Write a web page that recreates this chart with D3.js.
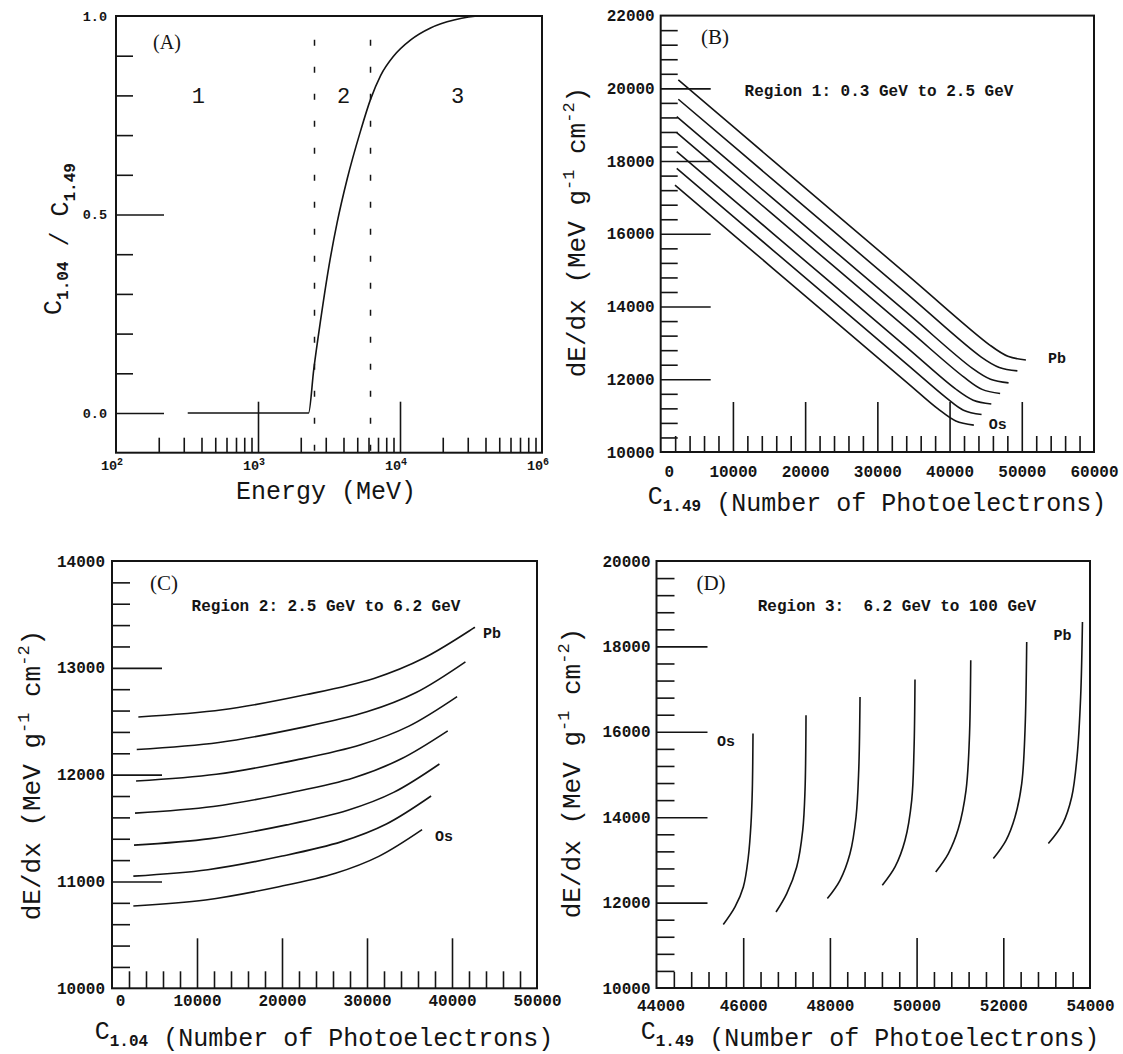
<!DOCTYPE html>
<html>
<head>
<meta charset="utf-8">
<script src="https://cdn.jsdelivr.net/npm/d3@7"></script>
<style>
  body { margin: 0; background: #fff; }
  text { fill: #141414; white-space: pre; }
</style>
</head>
<body>
<svg id="chart" width="1123" height="1054"></svg>
<script>
// ---------- data ----------

// (A) C1.04 / C1.49 versus energy (MeV)
const energyA = [320, 2270, 2470, 2750, 3160, 3610, 4250, 5270, 6200, 7300, 9060, 11900, 16400, 24000, 37000, 100000];
const ratioA  = [0, 0, 0.11, 0.23, 0.37, 0.48, 0.59, 0.71, 0.79, 0.85, 0.90, 0.94, 0.97, 0.99, 1.0, 1.0];
const regionCutsA = [2500, 6200];
const regionNamesA = ["1", "2", "3"];
const regionPosA = [380, 4000, 25400];
const xTicksA = [100, 1000, 10000, 100000];
const xTickExpA = ["2", "3", "4", "6"];
const yTicksA = [0, 0.5, 1.0];
const yTickLabelsA = ["0.0", "0.5", "1.0"];

// (B) region 1: dE/dx versus C1.49, Pb (top) ... Os (bottom)
const bX = [
  [2440, 15600, 34070, 45570, 48070, 50570],
  [2440, 15600, 34070, 44390, 46890, 49390],
  [2220, 15600, 34070, 43170, 45670, 48170],
  [2220, 15600, 34070, 42000, 44500, 47000],
  [2220, 15600, 34070, 40780, 43280, 45780],
  [2220, 15600, 34070, 39430, 41930, 44430],
  [1980, 15600, 34070, 38360, 40860, 43360]
];
const bY = [
  [20230, 18006, 14885, 12941, 12633, 12530],
  [19700, 17476, 14355, 12610, 12325, 12230],
  [19220, 16959, 13838, 12299, 12000, 11900],
  [18780, 16519, 13398, 12057, 11722, 11610],
  [18260, 15999, 12878, 11743, 11426, 11320],
  [17800, 15539, 12418, 11511, 11150, 11030],
  [17340, 15038, 11917, 11192, 10853, 10740]
];
const bTicks = [10000, 12000, 14000, 16000, 18000, 20000, 22000];
const bXTicks = [0, 10000, 20000, 30000, 40000, 50000, 60000];

// (C) region 2: dE/dx versus C1.04
const cX = [
  [3100, 13000, 22900, 30820, 36760, 42700],
  [2910, 12580, 22245, 29980, 35780, 41580],
  [2830, 12270, 21715, 29270, 34935, 40600],
  [2710, 11910, 21105, 28460, 33980, 39500],
  [2590, 11570, 20555, 27740, 33130, 38520],
  [2510, 11270, 20025, 27030, 32285, 37540],
  [2510, 11000, 19495, 26290, 31385, 36480]
];
const cY = [
  [12540, 12607, 12750, 12901, 13094, 13380],
  [12235, 12301, 12440, 12588, 12769, 13056],
  [11940, 12003, 12138, 12280, 12454, 12730],
  [11640, 11702, 11833, 11971, 12146, 12410],
  [11340, 11401, 11530, 11667, 11834, 12100],
  [11050, 11110, 11238, 11373, 11538, 11800],
  [10770, 10827, 10949, 11077, 11235, 11485]
];
const cTicks = [10000, 11000, 12000, 13000, 14000];
const cXTicks = [0, 10000, 20000, 30000, 40000, 50000];

// (D) region 3: dE/dx versus C1.49, Os (left) ... Pb (right)
const dX = [
  [45541, 45811, 46003, 46118, 46180, 46210, 46226],
  [46757, 47004, 47234, 47373, 47426, 47449],
  [47941, 48233, 48464, 48603, 48665, 48695],
  [49209, 49502, 49733, 49887, 49940, 49963],
  [50441, 50732, 50963, 51140, 51216, 51249],
  [51770, 52063, 52270, 52425, 52501, 52540],
  [53039, 53371, 53578, 53701, 53784, 53826]
];
const dY = [
  [11485, 11897, 12366, 13068, 13850, 14630, 15958],
  [11780, 12211, 12834, 13693, 14630, 16387],
  [12094, 12522, 13148, 14005, 15099, 16815],
  [12405, 12834, 13459, 14396, 15567, 17223],
  [12717, 13148, 13733, 14630, 15801, 17675],
  [13031, 13459, 14005, 14787, 16035, 18103],
  [13382, 13850, 14473, 15410, 16815, 18572]
];
const dTicks = [10000, 12000, 14000, 16000, 18000, 20000];
const dXTicks = [44000, 46000, 48000, 50000, 52000, 54000];

// ---------- drawing ----------
const svg = d3.select("#chart");
const ink = "#141414";
const mono = "'Liberation Mono', 'Courier New', monospace";
const serif = "'Liberation Serif', 'Times New Roman', serif";

function frame(g, x, y) {
  const [x0, x1] = x.range(), [y0, y1] = y.range();
  g.append("rect")
    .attr("x", x0).attr("y", y1)
    .attr("width", x1 - x0).attr("height", y0 - y1)
    .attr("fill", "none").attr("stroke", ink).attr("stroke-width", 2);
}

// inward tick marks on the left or bottom edge
function ticks(g, axis, values, len, tr) {
  g.append("g").attr("transform", tr)
    .call(axis.tickValues(values).tickSize(-len).tickFormat(""))
    .call(s => s.select(".domain").remove())
    .selectAll("line").attr("stroke", ink).attr("stroke-width", 1.6);
}

function labels(g, axis, values, texts, pad, tr, size) {
  const a = g.append("g").attr("transform", tr)
    .call(axis.tickValues(values).tickSize(0).tickPadding(pad).tickFormat((d, i) => texts[i]));
  a.select(".domain").remove();
  a.attr("font-family", mono).attr("font-weight", "bold").attr("font-size", size);
  a.selectAll("text").attr("fill", ink);
  return a;
}

function curves(g, x, y, xs, ys) {
  const line = d3.line().curve(d3.curveCatmullRom.alpha(0.5));
  xs.forEach((row, i) => {
    g.append("path")
      .attr("d", line(row.map((v, j) => [x(v), y(ys[i][j])])))
      .attr("fill", "none").attr("stroke", ink).attr("stroke-width", 1.6);
  });
}

function note(g, px, py, txt, size, family, weight, anchor) {
  g.append("text").attr("x", px).attr("y", py).attr("dy", "0.35em")
    .attr("text-anchor", anchor || "middle")
    .attr("font-family", family).attr("font-size", size)
    .attr("font-weight", weight || "normal").text(txt);
}

// "C" with a subscript, e.g. C1.49
function cSub(t, sub) {
  t.append("tspan").text("C");
  t.append("tspan").attr("dy", 7).attr("font-size", 16).attr("font-weight", "bold").text(sub);
  t.append("tspan").attr("dy", -7).text("");
}

function xTitle(g, px, py, sub) {
  const t = g.append("text").attr("x", px).attr("y", py).attr("dy", "0.35em")
    .attr("text-anchor", "middle").attr("font-family", mono).attr("font-size", 25);
  cSub(t, sub);
  t.append("tspan").text(" (Number of Photoelectrons)");
}

function yTitle(g, px, py) {
  const t = g.append("text").attr("transform", `translate(${px},${py}) rotate(-90)`)
    .attr("dy", "0.35em").attr("text-anchor", "middle")
    .attr("font-family", mono).attr("font-size", 26);
  t.append("tspan").text("dE/dx (MeV g");
  t.append("tspan").attr("dy", -11).attr("font-size", 17).text("-1");
  t.append("tspan").attr("dy", 11).text(" cm");
  t.append("tspan").attr("dy", -11).attr("font-size", 17).text("-2");
  t.append("tspan").attr("dy", 11).text(")");
}

// ----- panel A -----
{
  const g = svg.append("g");
  const x = d3.scaleLog().domain([100, 100000]).range([116, 542]);
  const y = d3.scaleLinear().domain([-0.1, 1.0]).range([452.7, 16]);
  frame(g, x, y);
  const xMinor = [];
  [100, 1000, 10000].forEach(b => d3.range(2, 10).forEach(k => xMinor.push(b * k)));
  ticks(g, d3.axisBottom(x), xMinor, 15, `translate(0,${y(-0.1)})`);
  ticks(g, d3.axisBottom(x), [1000, 10000], 51, `translate(0,${y(-0.1)})`);
  ticks(g, d3.axisLeft(y), [0.1, 0.2, 0.3, 0.4, 0.6, 0.7, 0.8, 0.9], 17, `translate(${x(100)},0)`);
  ticks(g, d3.axisLeft(y), [0, 0.5], 48, `translate(${x(100)},0)`);
  labels(g, d3.axisLeft(y), yTicksA, yTickLabelsA, 9, `translate(${x(100)},0)`, 13.5);

  xTicksA.forEach((v, i) => {
    const t = g.append("text").attr("x", x(v) - 4).attr("y", 470)
      .attr("text-anchor", "middle").attr("font-family", mono)
      .attr("font-weight", "bold").attr("font-size", 13.5);
    t.append("tspan").text("10");
    t.append("tspan").attr("dy", -5).attr("font-size", 10).text(xTickExpA[i]);
  });

  regionCutsA.forEach(v => {
    g.append("line").attr("x1", x(v)).attr("x2", x(v))
      .attr("y1", y(0.94)).attr("y2", y(-0.1))
      .attr("stroke", ink).attr("stroke-width", 1.5).attr("stroke-dasharray", "6,21");
  });

  g.append("path")
    .attr("d", d3.line().curve(d3.curveMonotoneX)(energyA.map((v, i) => [x(v), y(ratioA[i])])))
    .attr("fill", "none").attr("stroke", ink).attr("stroke-width", 1.6);

  regionNamesA.forEach((n, i) => note(g, x(regionPosA[i]), y(0.8), n, 22, mono));
  note(g, 167, 42, "(A)", 20, serif);

  note(g, 326, 490, "Energy (MeV)", 25, mono);
  const t = g.append("text").attr("transform", "translate(52,239) rotate(-90)")
    .attr("dy", "0.35em").attr("text-anchor", "middle")
    .attr("font-family", mono).attr("font-size", 25);
  cSub(t, "1.04");
  t.append("tspan").text(" / ");
  cSub(t, "1.49");
}

// ----- panel B -----
{
  const g = svg.append("g");
  const x = d3.scaleLinear().domain([0, 60000]).range([660.7, 1094]);
  const y = d3.scaleLinear().domain([10000, 22000]).range([452, 15.6]);
  frame(g, x, y);
  ticks(g, d3.axisBottom(x), d3.range(2000, 60000, 2000).filter(v => v % 10000), 16, `translate(0,${y(10000)})`);
  ticks(g, d3.axisBottom(x), [10000, 20000, 30000, 40000, 50000], 50, `translate(0,${y(10000)})`);
  ticks(g, d3.axisLeft(y), d3.range(10400, 22000, 400).filter(v => v % 2000), 17, `translate(${x(0)},0)`);
  ticks(g, d3.axisLeft(y), [12000, 14000, 16000, 18000, 20000], 50, `translate(${x(0)},0)`);
  labels(g, d3.axisLeft(y), bTicks, bTicks.map(String), 6, `translate(${x(0)},0)`, 16);
  labels(g, d3.axisBottom(x), bXTicks, bXTicks.map(String), 14, `translate(0,${y(10000)})`, 16)
    .selectAll("text").filter(d => d === 0).attr("dx", 8);
  curves(g, x, y, bX, bY);
  const e0 = bX[0].length - 1, e6 = bX[6].length - 1;
  note(g, x(bX[0][e0]) + 31, y(bY[0][e0]) - 2, "Pb", 15, mono, "bold");
  note(g, x(bX[6][e6]) + 24, y(bY[6][e6]) - 1, "Os", 15, mono, "bold");
  note(g, 879, 90, "Region 1: 0.3 GeV to 2.5 GeV", 16, mono, "bold");
  note(g, 715, 37, "(B)", 21, serif);
  xTitle(g, 877, 495, "1.49");
  yTitle(g, 576, 232);
}

// ----- panel C -----
{
  const g = svg.append("g");
  const x = d3.scaleLinear().domain([0, 50000]).range([112, 537]);
  const y = d3.scaleLinear().domain([10000, 14000]).range([988.3, 561]);
  frame(g, x, y);
  ticks(g, d3.axisBottom(x), d3.range(2000, 50000, 2000).filter(v => v % 10000), 17, `translate(0,${y(10000)})`);
  ticks(g, d3.axisBottom(x), [10000, 20000, 30000, 40000], 50, `translate(0,${y(10000)})`);
  ticks(g, d3.axisLeft(y), d3.range(10200, 14000, 200).filter(v => v % 1000), 18, `translate(${x(0)},0)`);
  ticks(g, d3.axisLeft(y), [11000, 12000, 13000], 50, `translate(${x(0)},0)`);
  labels(g, d3.axisLeft(y), cTicks, cTicks.map(String), 7, `translate(${x(0)},0)`, 16);
  labels(g, d3.axisBottom(x), cXTicks, cXTicks.map(String), 6, `translate(0,${y(10000)})`, 16)
    .selectAll("text").filter(d => d === 0).attr("dx", 8);
  curves(g, x, y, cX, cY);
  const e = cX[0].length - 1;
  note(g, x(cX[0][e]) + 17, y(cY[0][e]) + 6, "Pb", 15, mono, "bold");
  note(g, x(cX[6][e]) + 22, y(cY[6][e]) + 6, "Os", 15, mono, "bold");
  note(g, 326, 605, "Region 2: 2.5 GeV to 6.2 GeV", 16, mono, "bold");
  note(g, 164, 583, "(C)", 21, serif);
  xTitle(g, 324, 1030, "1.04");
  yTitle(g, 31, 775);
}

// ----- panel D -----
{
  const g = svg.append("g");
  const x = d3.scaleLinear().domain([44000, 54000]).range([656.5, 1090]);
  const y = d3.scaleLinear().domain([10000, 20000]).range([988, 561]);
  frame(g, x, y);
  ticks(g, d3.axisBottom(x), d3.range(44400, 54000, 400).filter(v => v % 2000), 16, `translate(0,${y(10000)})`);
  ticks(g, d3.axisBottom(x), [46000, 48000, 50000, 52000], 50, `translate(0,${y(10000)})`);
  ticks(g, d3.axisLeft(y), d3.range(10400, 20000, 400).filter(v => v % 2000), 18, `translate(${x(44000)},0)`);
  ticks(g, d3.axisLeft(y), [12000, 14000, 16000, 18000], 51, `translate(${x(44000)},0)`);
  labels(g, d3.axisLeft(y), dTicks, dTicks.map(String), 6, `translate(${x(44000)},0)`, 16);
  labels(g, d3.axisBottom(x), dXTicks, dXTicks.map(String), 12, `translate(0,${y(10000)})`, 16)
    .selectAll("text").filter(d => d === 44000).attr("dx", 4);
  curves(g, x, y, dX, dY);
  const e0 = dX[0].length - 1, e6 = dX[6].length - 1;
  note(g, x(dX[0][e0]) - 27, y(dY[0][e0]) + 7, "Os", 15, mono, "bold");
  note(g, x(dX[6][e6]) - 20, y(dY[6][e6]) + 13, "Pb", 15, mono, "bold");
  note(g, 897, 605, "Region 3:  6.2 GeV to 100 GeV", 16, mono, "bold");
  note(g, 711, 583, "(D)", 21, serif);
  xTitle(g, 870, 1030, "1.49");
  yTitle(g, 571, 773);
}
</script>
</body>
</html>
